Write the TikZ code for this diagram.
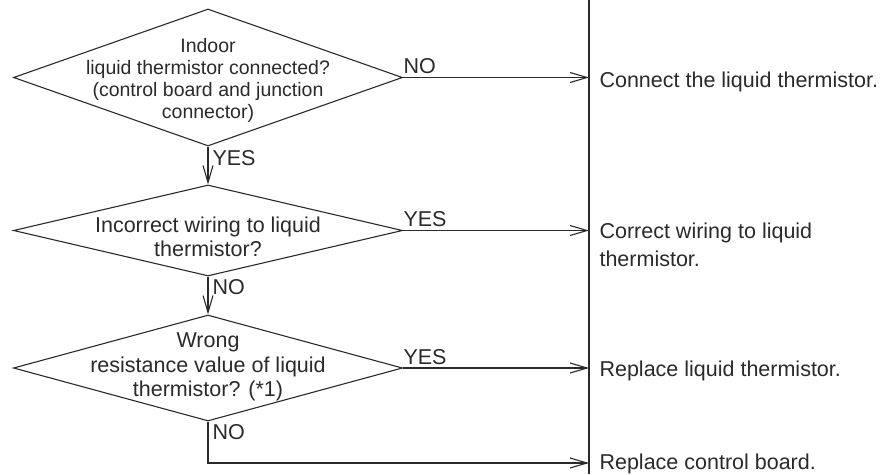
\documentclass[tikz,border=0pt]{standalone}
\usepackage{fontspec}
\setmainfont{Liberation Sans}
\usetikzlibrary{arrows.meta,shapes.geometric}
\definecolor{ink}{HTML}{2A2A2A}
\begin{document}
\begin{tikzpicture}[x=1pt,y=-1pt, line width=1.1pt, color=ink,
  dec/.style={draw, diamond, inner sep=0pt, minimum width=389pt},
  txt/.style={font=\fontsize{21.5}{24.5}\selectfont, align=center, inner sep=0pt},
  res/.style={font=\fontsize{21.5}{28}\selectfont, align=left, inner sep=0pt, anchor=base west},
  lbl/.style={font=\fontsize{21.5}{24}\selectfont, inner sep=0pt, anchor=base west},
  arr/.style={-{Straight Barb[length=17pt,width=10pt]}}]
\useasboundingbox (0,0) rectangle (890,474);

% bar
\coordinate (bt) at (589,0);
\coordinate (bb) at (589,474);
\draw (bt) -- (bb);

% decisions
\node[dec, minimum height=137pt] (d1) at (208,77.5) {};
\node[txt, font=\fontsize{19.5}{22}\selectfont] (t1) at (208,80) {Indoor\\liquid thermistor connected?\\(control board and junction\\connector)};
\node[dec, minimum height=91pt] (d2) at (208,230.5) {};
\node[txt] (t2) at (208,237) {Incorrect wiring to liquid\\thermistor?};
\node[dec, minimum height=106pt] (d3) at (208,368) {};
\node[txt] (t3) at (208,367) {Wrong\\resistance value of liquid\\thermistor? (*1)};

% results
\node[res] (r1) at (599,87) {Connect the liquid thermistor.};
\node[res, anchor=north west] (r2) at (599,222) {Correct wiring to liquid\\thermistor.};
\node[res] (r3) at (599,376) {Replace liquid thermistor.};
\node[res] (r4) at (599,469) {Replace control board.};
\coordinate (e4) at (589,463);

% connectors
\draw[arr] (d1.east) -- (d1.east -| bt);
\draw[arr] (d1.south) -- (d2.north);
\draw[arr] (d2.east) -- (d2.east -| bt);
\draw[arr] (d2.south) -- (d3.north);
\draw[arr] (d3.east) -- (d3.east -| bt);
\draw[arr] (d3.south) |- (e4);

% labels
\node[lbl] (l1) at (403,73) {NO};
\node[lbl] (l2) at (212,165) {YES};
\node[lbl] (l3) at (403,226) {YES};
\node[lbl] (l4) at (212,294) {NO};
\node[lbl] (l5) at (403,364) {YES};
\node[lbl] (l6) at (212,439) {NO};
\end{tikzpicture}
\end{document}
